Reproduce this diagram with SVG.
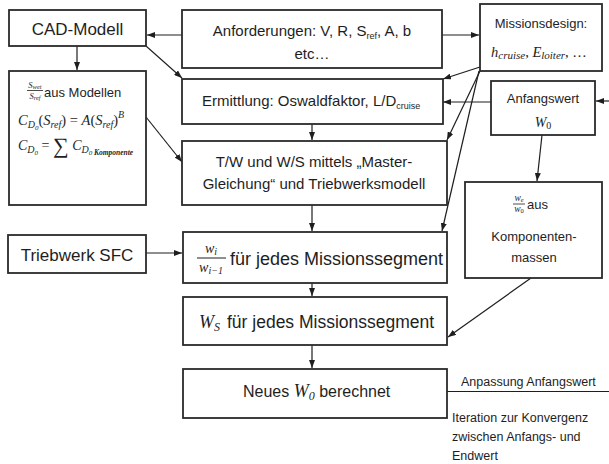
<svg xmlns="http://www.w3.org/2000/svg" width="609" height="464" viewBox="0 0 609 464">
<defs>
<marker id="ah" markerUnits="userSpaceOnUse" markerWidth="8" markerHeight="6" refX="8" refY="3" orient="auto">
<path d="M0,0 L8,3 L0,6 z" fill="#1e1e1e"/>
</marker>
<style>
.box{fill:#fff;stroke:#2a2a2a;stroke-width:1.8}
.t{font-family:"Liberation Sans",Arial,sans-serif;fill:#1e1e1e}
.m{font-family:"Liberation Serif","Times New Roman",serif;font-style:italic;fill:#1e1e1e}
.c{fill:none;stroke:#1e1e1e;stroke-width:1.2}
.a{marker-end:url(#ah)}
</style>
</defs>
<rect width="609" height="464" fill="#fff"/>

<g id="connectors">
<line class="c a" x1="182" y1="35" x2="147" y2="35"/>
<line class="c a" x1="442" y1="35" x2="479" y2="35"/>
<line class="c a" x1="77" y1="46" x2="77" y2="70"/>
<line class="c a" x1="146" y1="46" x2="182" y2="78"/>
<line class="c a" x1="146" y1="117" x2="182" y2="162"/>
<line class="c a" x1="312" y1="124" x2="312" y2="140"/>
<line class="c a" x1="480" y1="67" x2="443" y2="79"/>
<line class="c a" x1="491" y1="102" x2="443" y2="102"/>
<line class="c a" x1="480" y1="71" x2="447" y2="140"/>
<line class="c a" x1="479" y1="71" x2="442" y2="231"/>
<line class="c a" x1="609" y1="101" x2="596" y2="101"/>
<line class="c a" x1="542" y1="135" x2="537" y2="181"/>
<line class="c a" x1="531" y1="278" x2="448" y2="337"/>
<line class="c a" x1="312" y1="205" x2="312" y2="231"/>
<line class="c a" x1="146" y1="253" x2="182" y2="253"/>
<line class="c a" x1="312" y1="283" x2="312" y2="296"/>
<line class="c a" x1="312" y1="345" x2="312" y2="368"/>
<line class="c" x1="447" y1="391.5" x2="609" y2="391.5"/>
</g>

<g id="cad">
<rect class="box" x="9" y="10" width="137" height="36"/>
<text class="t" x="77.5" y="35" font-size="17" text-anchor="middle">CAD-Modell</text>
</g>

<g id="formeln">
<rect class="box" x="9" y="71" width="137" height="134"/>
<text class="m" x="35" y="88" font-size="8.5" text-anchor="middle">S<tspan font-size="6.5" dy="1">wet</tspan></text>
<line x1="27" y1="90.5" x2="43" y2="90.5" stroke="#1e1e1e" stroke-width="0.8"/>
<text class="m" x="35" y="99" font-size="8.5" text-anchor="middle">S<tspan font-size="6.5" dy="1">ref</tspan></text>
<text class="t" x="44" y="97" font-size="13">aus Modellen</text>
<text class="m" x="18" y="125" font-size="14.5">C<tspan font-size="10" dy="3">D</tspan><tspan font-size="7" dy="1.5">0</tspan><tspan font-style="normal" dy="-4.5">(</tspan>S<tspan font-size="10" dy="3">ref</tspan><tspan font-style="normal" dy="-3">) = </tspan>A<tspan font-style="normal">(</tspan>S<tspan font-size="10" dy="3">ref</tspan><tspan font-style="normal" dy="-3">)</tspan><tspan font-size="10" dy="-7">B</tspan></text>
<text class="m" x="18" y="150" font-size="14">C<tspan font-size="10" dy="3">D</tspan><tspan font-size="7" dy="1.5">0</tspan><tspan font-style="normal" dy="-4.5"> = </tspan><tspan font-style="normal" font-size="22" dy="3">∑</tspan><tspan dy="-3"> C</tspan><tspan font-size="10" dy="3">D</tspan><tspan font-size="7" dy="1.5">0 </tspan><tspan font-size="7.5" font-weight="bold">Komponente</tspan></text>
</g>

<g id="anforderungen">
<rect class="box" x="182" y="10" width="260" height="58"/>
<text class="t" x="312" y="36" font-size="15" text-anchor="middle">Anforderungen: V, R, S<tspan font-size="9" dy="3">ref</tspan><tspan dy="-3">, A, b</tspan></text>
<text class="t" x="312" y="59" font-size="15" text-anchor="middle">etc…</text>
</g>

<g id="missionsdesign">
<rect class="box" x="480" y="4" width="122" height="67"/>
<text class="t" x="541" y="28" font-size="13" text-anchor="middle">Missionsdesign:</text>
<text class="m" x="491" y="57" font-size="14.5">h<tspan font-size="11" dy="2">cruise</tspan><tspan font-style="normal" dy="-2">, </tspan>E<tspan font-size="11" dy="2">loiter</tspan><tspan font-style="normal" dy="-2">, …</tspan></text>
</g>

<g id="ermittlung">
<rect class="box" x="182" y="79" width="261" height="45"/>
<text class="t" x="202" y="106" font-size="15">Ermittlung: Oswaldfaktor, L/D<tspan font-size="9" dy="3">cruise</tspan></text>
</g>

<g id="anfangswert">
<rect class="box" x="491" y="81" width="104" height="54"/>
<text class="t" x="543" y="103" font-size="13" text-anchor="middle">Anfangswert</text>
<text class="m" x="543" y="127" font-size="14" text-anchor="middle">W<tspan font-size="10" font-style="normal" dy="2">0</tspan></text>
</g>

<g id="tw">
<rect class="box" x="182" y="141" width="265" height="64"/>
<text class="t" x="314" y="167" font-size="15" text-anchor="middle">T/W und W/S mittels „Master-</text>
<text class="t" x="314" y="189" font-size="15" text-anchor="middle">Gleichung“ und Triebwerksmodell</text>
</g>

<g id="we">
<rect class="box" x="465" y="182" width="137" height="96"/>
<text class="m" x="519" y="201" font-size="9.5" text-anchor="middle">w<tspan font-size="6.5" dy="1">e</tspan></text>
<line x1="513" y1="204" x2="525" y2="204" stroke="#1e1e1e" stroke-width="0.8"/>
<text class="m" x="519" y="212" font-size="9.5" text-anchor="middle">w<tspan font-size="6.5" dy="1" font-style="normal">0</tspan></text>
<text class="t" x="527" y="209" font-size="13">aus</text>
<text class="t" x="534" y="241" font-size="13" text-anchor="middle">Komponenten-</text>
<text class="t" x="534" y="262" font-size="13" text-anchor="middle">massen</text>
</g>

<g id="triebwerk">
<rect class="box" x="8" y="235" width="138" height="38"/>
<text class="t" x="77" y="261" font-size="17" text-anchor="middle">Triebwerk SFC</text>
</g>

<g id="wi">
<rect class="box" x="183" y="232" width="264" height="51"/>
<text class="m" x="211" y="253" font-size="14" text-anchor="middle">w<tspan font-size="10" dy="2">i</tspan></text>
<line x1="197" y1="258" x2="226" y2="258" stroke="#1e1e1e" stroke-width="1"/>
<text class="m" x="211" y="272" font-size="14" text-anchor="middle">w<tspan font-size="10" dy="2">i−1</tspan></text>
<text class="t" x="230" y="265" font-size="18">für jedes Missionssegment</text>
</g>

<g id="ws">
<rect class="box" x="183" y="297" width="264" height="48"/>
<text class="m" x="199" y="328" font-size="18">W<tspan font-size="12" dy="3">S</tspan></text>
<text class="t" x="227" y="328" font-size="17.5">für jedes Missionssegment</text>
</g>

<g id="neues">
<rect class="box" x="183" y="369" width="264" height="49"/>
<text class="t" x="243" y="397" font-size="16">Neues <tspan class="m" font-size="18">W</tspan><tspan class="m" font-style="normal" font-size="12" dy="3">0</tspan><tspan dy="-3"> berechnet</tspan></text>
</g>

<g id="labels">
<text class="t" x="461" y="386" font-size="12.5">Anpassung Anfangswert</text>
<text class="t" x="452" y="422" font-size="12.5">Iteration zur Konvergenz</text>
<text class="t" x="452" y="441" font-size="12.5">zwischen Anfangs- und</text>
<text class="t" x="452" y="460" font-size="12.5">Endwert</text>
</g>
</svg>
